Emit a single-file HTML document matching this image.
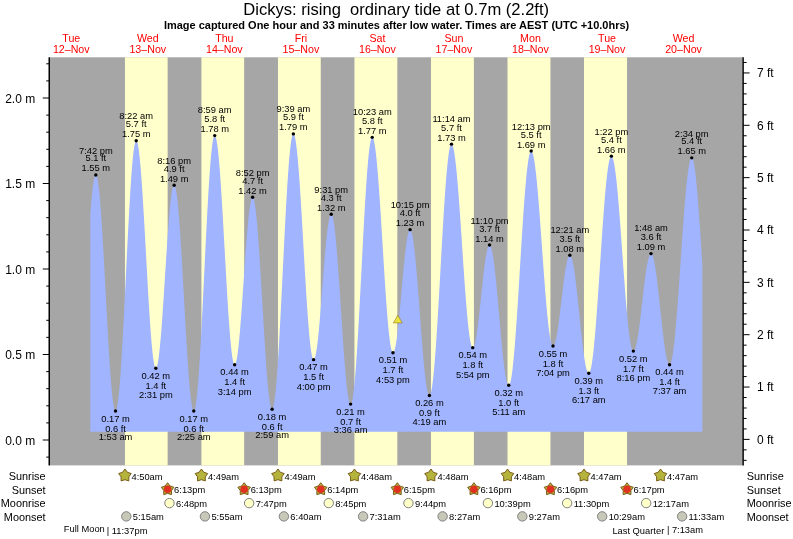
<!DOCTYPE html>
<html><head><meta charset="utf-8"><title>Dickys tide times</title>
<style>
html,body{margin:0;padding:0;background:#fff}
svg{display:block}
text{font-family:"Liberation Sans",Arial,Helvetica,sans-serif;fill:#000}
.t7{font-size:9.33px}
.t8{font-size:10.67px}
.t9{font-size:10.9px}
.ax{font-size:12px}
.day{font-size:10.67px;fill:#ff0000;text-anchor:middle}
.c{text-anchor:middle}
.e{text-anchor:end}
</style></head><body>
<svg width="793" height="539" viewBox="0 0 793 539">
<rect width="793" height="539" fill="#fff"/>
<rect x="50" y="57.3" width="692.5" height="408.09999999999997" fill="#a6a6a6"/>
<rect x="124.95" y="57.3" width="42.68" height="408.09999999999997" fill="#ffffcc"/>
<rect x="201.43" y="57.3" width="42.73" height="408.09999999999997" fill="#ffffcc"/>
<rect x="277.96" y="57.3" width="42.78" height="408.09999999999997" fill="#ffffcc"/>
<rect x="354.44" y="57.3" width="42.89" height="408.09999999999997" fill="#ffffcc"/>
<rect x="430.97" y="57.3" width="42.94" height="408.09999999999997" fill="#ffffcc"/>
<rect x="507.51" y="57.3" width="42.94" height="408.09999999999997" fill="#ffffcc"/>
<rect x="583.99" y="57.3" width="43.05" height="408.09999999999997" fill="#ffffcc"/>
<path d="M90.30,431.8L90.30,214.48L90.81,207.93L91.32,201.87L91.83,196.34L92.34,191.37L92.85,187.00L93.36,183.28L93.87,180.21L94.38,177.83L94.89,176.16L95.40,175.20L95.91,174.96L96.42,175.49L96.93,176.79L97.44,178.85L97.95,181.67L98.46,185.22L98.97,189.49L99.48,194.44L99.99,200.03L100.50,206.24L101.01,213.02L101.52,220.33L102.03,228.12L102.54,236.34L103.05,244.93L103.56,253.83L104.07,263.00L104.58,272.36L105.09,281.86L105.60,291.43L106.11,301.01L106.62,310.54L107.13,319.95L107.64,329.18L108.15,338.18L108.66,346.87L109.17,355.21L109.68,363.14L110.19,370.61L110.70,377.56L111.21,383.96L111.72,389.75L112.23,394.91L112.74,399.39L113.25,403.17L113.76,406.22L114.27,408.53L114.78,410.07L115.29,410.84L115.80,410.82L116.31,410.00L116.82,408.38L117.33,405.96L117.84,402.76L118.35,398.80L118.86,394.09L119.37,388.68L119.88,382.60L120.39,375.87L120.90,368.54L121.41,360.65L121.92,352.26L122.43,343.40L122.94,334.14L123.45,324.53L123.96,314.63L124.47,304.50L124.98,294.19L125.49,283.77L126.00,273.31L126.51,262.86L127.02,252.49L127.53,242.26L128.04,232.23L128.55,222.46L129.06,213.01L129.57,203.94L130.08,195.31L130.59,187.15L131.10,179.53L131.61,172.48L132.12,166.06L132.63,160.29L133.14,155.22L133.65,150.87L134.16,147.28L134.67,144.45L135.18,142.41L135.69,141.18L136.20,140.75L136.71,141.11L137.22,142.22L137.73,144.09L138.24,146.69L138.75,150.00L139.26,154.02L139.77,158.71L140.28,164.03L140.79,169.96L141.30,176.45L141.81,183.46L142.32,190.94L142.83,198.85L143.34,207.13L143.85,215.73L144.36,224.58L144.87,233.64L145.38,242.83L145.89,252.10L146.40,261.38L146.91,270.62L147.42,279.76L147.93,288.72L148.44,297.45L148.95,305.90L149.46,314.01L149.97,321.71L150.48,328.97L150.99,335.73L151.50,341.95L152.01,347.59L152.52,352.60L153.03,356.97L153.54,360.64L154.05,363.61L154.56,365.85L155.07,367.35L155.58,368.09L156.09,368.09L156.60,367.38L157.11,365.97L157.62,363.89L158.13,361.14L158.64,357.75L159.15,353.74L159.66,349.14L160.17,343.99L160.68,338.32L161.19,332.19L161.70,325.63L162.21,318.69L162.72,311.44L163.23,303.92L163.74,296.20L164.25,288.32L164.76,280.36L165.27,272.37L165.78,264.41L166.29,256.55L166.80,248.83L167.31,241.34L167.82,234.11L168.33,227.20L168.84,220.68L169.35,214.58L169.86,208.96L170.37,203.85L170.88,199.30L171.39,195.34L171.90,191.99L172.41,189.30L172.92,187.27L173.43,185.93L173.94,185.28L174.45,185.33L174.96,186.13L175.47,187.68L175.98,189.96L176.49,192.97L177.00,196.67L177.51,201.06L178.02,206.09L178.53,211.73L179.04,217.95L179.55,224.70L180.06,231.94L180.57,239.63L181.08,247.70L181.59,256.11L182.10,264.80L182.61,273.71L183.12,282.79L183.63,291.97L184.14,301.18L184.65,310.38L185.16,319.49L185.67,328.46L186.18,337.23L186.69,345.74L187.20,353.93L187.71,361.74L188.22,369.14L188.73,376.05L189.24,382.45L189.75,388.29L190.26,393.52L190.77,398.12L191.28,402.04L191.79,405.28L192.30,407.80L192.81,409.59L193.32,410.63L193.83,410.93L194.34,410.43L194.85,409.14L195.36,407.05L195.87,404.18L196.38,400.54L196.89,396.16L197.40,391.06L197.91,385.27L198.42,378.82L198.93,371.76L199.44,364.12L199.95,355.94L200.46,347.29L200.97,338.20L201.48,328.73L201.99,318.94L202.50,308.88L203.01,298.61L203.52,288.20L204.03,277.69L204.54,267.16L205.05,256.67L205.56,246.27L206.07,236.03L206.58,226.01L207.09,216.27L207.60,206.86L208.11,197.84L208.62,189.26L209.13,181.17L209.64,173.62L210.15,166.65L210.66,160.31L211.17,154.62L211.68,149.64L212.19,145.37L212.70,141.86L213.21,139.11L213.72,137.15L214.23,135.98L214.74,135.62L215.25,136.03L215.76,137.17L216.27,139.05L216.78,141.64L217.29,144.93L217.80,148.91L218.31,153.54L218.82,158.79L219.33,164.63L219.84,171.03L220.35,177.93L220.86,185.31L221.37,193.10L221.88,201.26L222.39,209.74L222.90,218.47L223.41,227.42L223.92,236.51L224.43,245.69L224.94,254.89L225.45,264.07L225.96,273.16L226.47,282.10L226.98,290.83L227.49,299.30L228.00,307.46L228.51,315.24L229.02,322.60L229.53,329.50L230.04,335.88L230.55,341.71L231.06,346.95L231.57,351.57L232.08,355.52L232.59,358.80L233.10,361.38L233.61,363.24L234.12,364.37L234.63,364.76L235.14,364.45L235.65,363.47L236.16,361.84L236.67,359.56L237.18,356.66L237.69,353.16L238.20,349.08L238.71,344.46L239.22,339.34L239.73,333.75L240.24,327.75L240.75,321.37L241.26,314.67L241.77,307.70L242.28,300.52L242.79,293.19L243.30,285.76L243.81,278.29L244.32,270.84L244.83,263.47L245.34,256.24L245.85,249.21L246.36,242.43L246.87,235.95L247.38,229.84L247.89,224.13L248.40,218.87L248.91,214.11L249.42,209.88L249.93,206.21L250.44,203.14L250.95,200.68L251.46,198.87L251.97,197.70L252.48,197.20L252.99,197.38L253.50,198.27L254.01,199.87L254.52,202.16L255.03,205.14L255.54,208.78L256.05,213.05L256.56,217.93L257.07,223.39L257.58,229.38L258.09,235.88L258.60,242.83L259.11,250.18L259.62,257.89L260.13,265.91L260.64,274.18L261.15,282.64L261.66,291.24L262.17,299.93L262.68,308.63L263.19,317.30L263.70,325.88L264.21,334.30L264.72,342.51L265.23,350.46L265.74,358.08L266.25,365.34L266.76,372.18L267.27,378.55L267.78,384.42L268.29,389.74L268.80,394.47L269.31,398.59L269.82,402.06L270.33,404.87L270.84,406.99L271.35,408.42L271.86,409.13L272.37,409.12L272.88,408.34L273.39,406.78L273.90,404.46L274.41,401.37L274.92,397.56L275.43,393.02L275.94,387.80L276.45,381.92L276.96,375.41L277.47,368.31L277.98,360.67L278.49,352.51L279.00,343.90L279.51,334.88L280.02,325.49L280.53,315.80L281.04,305.86L281.55,295.73L282.06,285.46L282.57,275.10L283.08,264.73L283.59,254.40L284.10,244.17L284.61,234.09L285.12,224.22L285.63,214.62L286.14,205.35L286.65,196.45L287.16,187.98L287.67,179.98L288.18,172.50L288.69,165.59L289.20,159.27L289.71,153.60L290.22,148.59L290.73,144.28L291.24,140.70L291.75,137.85L292.26,135.77L292.77,134.46L293.28,133.92L293.79,134.15L294.30,135.07L294.81,136.70L295.32,139.02L295.83,142.01L296.34,145.65L296.85,149.93L297.36,154.81L297.87,160.27L298.38,166.27L298.89,172.78L299.40,179.75L299.91,187.13L300.42,194.89L300.93,202.98L301.44,211.34L301.95,219.92L302.46,228.67L302.97,237.53L303.48,246.45L303.99,255.37L304.50,264.24L305.01,272.99L305.52,281.59L306.03,289.97L306.54,298.07L307.05,305.86L307.56,313.27L308.07,320.27L308.58,326.81L309.09,332.85L309.60,338.35L310.11,343.28L310.62,347.60L311.13,351.29L311.64,354.33L312.15,356.69L312.66,358.37L313.17,359.35L313.68,359.63L314.19,359.26L314.70,358.29L315.21,356.73L315.72,354.59L316.23,351.90L316.74,348.66L317.25,344.91L317.76,340.68L318.27,336.01L318.78,330.93L319.29,325.49L319.80,319.72L320.31,313.69L320.82,307.43L321.33,301.00L321.84,294.46L322.35,287.85L322.86,281.24L323.37,274.68L323.88,268.21L324.39,261.90L324.90,255.80L325.41,249.96L325.92,244.42L326.43,239.24L326.94,234.45L327.45,230.10L327.96,226.22L328.47,222.84L328.98,219.99L329.49,217.70L330.00,215.98L330.51,214.86L331.02,214.32L331.53,214.40L332.04,215.13L332.55,216.49L333.06,218.48L333.57,221.10L334.08,224.31L334.59,228.10L335.10,232.45L335.61,237.32L336.12,242.68L336.63,248.49L337.14,254.71L337.65,261.31L338.16,268.24L338.67,275.44L339.18,282.87L339.69,290.48L340.20,298.22L340.71,306.04L341.22,313.87L341.73,321.68L342.24,329.40L342.75,336.98L343.26,344.37L343.77,351.52L344.28,358.38L344.79,364.91L345.30,371.06L345.81,376.78L346.32,382.05L346.83,386.82L347.34,391.06L347.85,394.74L348.36,397.83L348.87,400.33L349.38,402.20L349.89,403.44L350.40,404.03L350.91,403.97L351.42,403.18L351.93,401.66L352.44,399.43L352.95,396.49L353.46,392.86L353.97,388.56L354.48,383.62L354.99,378.05L355.50,371.90L356.01,365.19L356.52,357.97L357.03,350.26L357.54,342.12L358.05,333.59L358.56,324.71L359.07,315.54L359.58,306.12L360.09,296.51L360.60,286.75L361.11,276.91L361.62,267.03L362.13,257.18L362.64,247.39L363.15,237.74L363.66,228.27L364.17,219.02L364.68,210.07L365.19,201.44L365.70,193.20L366.21,185.38L366.72,178.03L367.23,171.18L367.74,164.88L368.25,159.17L368.76,154.06L369.27,149.59L369.78,145.79L370.29,142.67L370.80,140.26L371.31,138.56L371.82,137.58L372.33,137.34L372.84,137.77L373.35,138.84L373.86,140.54L374.37,142.87L374.88,145.80L375.39,149.33L375.90,153.43L376.41,158.08L376.92,163.25L377.43,168.91L377.94,175.02L378.45,181.55L378.96,188.46L379.47,195.71L379.98,203.25L380.49,211.04L381.00,219.04L381.51,227.19L382.02,235.44L382.53,243.76L383.04,252.08L383.55,260.36L384.06,268.55L384.57,276.60L385.08,284.46L385.59,292.08L386.10,299.43L386.61,306.45L387.12,313.10L387.63,319.35L388.14,325.15L388.65,330.47L389.16,335.29L389.67,339.56L390.18,343.28L390.69,346.40L391.20,348.92L391.71,350.82L392.22,352.09L392.73,352.72L393.24,352.72L393.75,352.17L394.26,351.08L394.77,349.47L395.28,347.35L395.79,344.74L396.30,341.67L396.81,338.15L397.32,334.21L397.83,329.91L398.34,325.26L398.85,320.31L399.36,315.11L399.87,309.71L400.38,304.14L400.89,298.45L401.40,292.71L401.91,286.95L402.42,281.22L402.93,275.59L403.44,270.09L403.95,264.78L404.46,259.70L404.97,254.89L405.48,250.41L405.99,246.28L406.50,242.54L407.01,239.23L407.52,236.38L408.03,234.01L408.54,232.14L409.05,230.78L409.56,229.96L410.07,229.67L410.58,229.94L411.09,230.77L411.60,232.16L412.11,234.10L412.62,236.59L413.13,239.59L413.64,243.09L414.15,247.07L414.66,251.50L415.17,256.35L415.68,261.58L416.19,267.17L416.70,273.06L417.21,279.23L417.72,285.63L418.23,292.21L418.74,298.92L419.25,305.74L419.76,312.60L420.27,319.46L420.78,326.27L421.29,332.99L421.80,339.57L422.31,345.97L422.82,352.14L423.33,358.03L423.84,363.62L424.35,368.85L424.86,373.70L425.37,378.13L425.88,382.11L426.39,385.62L426.90,388.62L427.41,391.10L427.92,393.05L428.43,394.44L428.94,395.27L429.45,395.54L429.96,395.19L430.47,394.17L430.98,392.50L431.49,390.19L432.00,387.23L432.51,383.66L433.02,379.49L433.53,374.74L434.04,369.44L434.55,363.62L435.06,357.29L435.57,350.51L436.08,343.30L436.59,335.71L437.10,327.76L437.61,319.51L438.12,311.00L438.63,302.27L439.14,293.38L439.65,284.35L440.16,275.25L440.67,266.13L441.18,257.02L441.69,247.98L442.20,239.05L442.71,230.29L443.22,221.74L443.73,213.44L444.24,205.43L444.75,197.77L445.26,190.49L445.77,183.63L446.28,177.22L446.79,171.30L447.30,165.90L447.81,161.04L448.32,156.77L448.83,153.08L449.34,150.02L449.85,147.58L450.36,145.79L450.87,144.66L451.38,144.19L451.89,144.35L452.40,145.09L452.91,146.40L453.42,148.28L453.93,150.71L454.44,153.69L454.95,157.18L455.46,161.18L455.97,165.66L456.48,170.60L456.99,175.97L457.50,181.73L458.01,187.85L458.52,194.31L459.03,201.06L459.54,208.06L460.05,215.28L460.56,222.67L461.07,230.20L461.58,237.81L462.09,245.47L462.60,253.13L463.11,260.75L463.62,268.29L464.13,275.70L464.64,282.94L465.15,289.97L465.66,296.75L466.17,303.24L466.68,309.41L467.19,315.21L467.70,320.63L468.21,325.61L468.72,330.15L469.23,334.21L469.74,337.76L470.25,340.80L470.76,343.30L471.27,345.24L471.78,346.62L472.29,347.43L472.80,347.66L473.31,347.38L473.82,346.63L474.33,345.43L474.84,343.79L475.35,341.71L475.86,339.22L476.37,336.34L476.88,333.09L477.39,329.52L477.90,325.64L478.41,321.49L478.92,317.12L479.43,312.55L479.94,307.84L480.45,303.03L480.96,298.15L481.47,293.26L481.98,288.40L482.49,283.61L483.00,278.93L483.51,274.41L484.02,270.10L484.53,266.02L485.04,262.22L485.55,258.72L486.06,255.57L486.57,252.80L487.08,250.41L487.59,248.45L488.10,246.92L488.61,245.84L489.12,245.22L489.63,245.07L490.14,245.39L490.65,246.21L491.16,247.50L491.67,249.26L492.18,251.49L492.69,254.16L493.20,257.25L493.71,260.75L494.22,264.62L494.73,268.85L495.24,273.40L495.75,278.25L496.26,283.35L496.77,288.67L497.28,294.17L497.79,299.83L498.30,305.59L498.81,311.41L499.32,317.27L499.83,323.10L500.34,328.89L500.85,334.57L501.36,340.12L501.87,345.50L502.38,350.67L502.89,355.59L503.40,360.23L503.91,364.55L504.42,368.53L504.93,372.14L505.44,375.35L505.95,378.14L506.46,380.49L506.97,382.39L507.48,383.81L507.99,384.76L508.50,385.23L509.01,385.19L509.52,384.56L510.03,383.35L510.54,381.54L511.05,379.15L511.56,376.20L512.07,372.70L512.58,368.66L513.09,364.11L513.60,359.08L514.11,353.57L514.62,347.64L515.13,341.29L515.64,334.58L516.15,327.52L516.66,320.16L517.17,312.54L517.68,304.69L518.19,296.65L518.70,288.47L519.21,280.18L519.72,271.84L520.23,263.47L520.74,255.13L521.25,246.85L521.76,238.69L522.27,230.67L522.78,222.84L523.29,215.25L523.80,207.92L524.31,200.91L524.82,194.23L525.33,187.94L525.84,182.05L526.35,176.60L526.86,171.62L527.37,167.13L527.88,163.15L528.39,159.71L528.90,156.83L529.41,154.51L529.92,152.77L530.43,151.62L530.94,151.07L531.45,151.10L531.96,151.66L532.47,152.74L532.98,154.33L533.49,156.43L534.00,159.03L534.51,162.11L535.02,165.65L535.53,169.64L536.04,174.05L536.55,178.86L537.06,184.05L537.57,189.58L538.08,195.43L538.59,201.57L539.10,207.96L539.61,214.56L540.12,221.35L540.63,228.28L541.14,235.32L541.65,242.44L542.16,249.58L542.67,256.72L543.18,263.82L543.69,270.83L544.20,277.72L544.71,284.46L545.22,291.00L545.73,297.31L546.24,303.36L546.75,309.12L547.26,314.55L547.77,319.62L548.28,324.31L548.79,328.60L549.30,332.45L549.81,335.85L550.32,338.78L550.83,341.23L551.34,343.17L551.85,344.61L552.36,345.53L552.87,345.93L553.38,345.84L553.89,345.33L554.40,344.42L554.91,343.12L555.42,341.43L555.93,339.37L556.44,336.96L556.95,334.22L557.46,331.18L557.97,327.87L558.48,324.30L558.99,320.53L559.50,316.57L560.01,312.47L560.52,308.26L561.03,303.99L561.54,299.68L562.05,295.39L562.56,291.14L563.07,286.97L563.58,282.93L564.09,279.05L564.60,275.36L565.11,271.91L565.62,268.71L566.13,265.80L566.64,263.20L567.15,260.95L567.66,259.05L568.17,257.53L568.68,256.40L569.19,255.66L569.70,255.34L570.21,255.42L570.72,255.93L571.23,256.86L571.74,258.20L572.25,259.94L572.76,262.07L573.27,264.57L573.78,267.43L574.29,270.63L574.80,274.14L575.31,277.94L575.82,282.00L576.33,286.29L576.84,290.78L577.35,295.44L577.86,300.23L578.37,305.13L578.88,310.09L579.39,315.08L579.90,320.07L580.41,325.01L580.92,329.88L581.43,334.64L581.94,339.25L582.45,343.68L582.96,347.91L583.47,351.89L583.98,355.60L584.49,359.02L585.00,362.11L585.51,364.87L586.02,367.26L586.53,369.27L587.04,370.89L587.55,372.10L588.06,372.90L588.57,373.28L589.08,373.21L589.59,372.61L590.10,371.46L590.61,369.78L591.12,367.57L591.63,364.84L592.14,361.61L592.65,357.90L593.16,353.71L593.67,349.08L594.18,344.02L594.69,338.56L595.20,332.73L595.71,326.56L596.22,320.08L596.73,313.32L597.24,306.32L597.75,299.10L598.26,291.72L598.77,284.19L599.28,276.57L599.79,268.89L600.30,261.19L600.81,253.51L601.32,245.88L601.83,238.35L602.34,230.95L602.85,223.73L603.36,216.70L603.87,209.92L604.38,203.42L604.89,197.22L605.40,191.36L605.91,185.87L606.42,180.78L606.93,176.11L607.44,171.88L607.95,168.13L608.46,164.85L608.97,162.08L609.48,159.83L609.99,158.11L610.50,156.92L611.01,156.27L611.52,156.17L612.03,156.59L612.54,157.52L613.05,158.96L613.56,160.91L614.07,163.34L614.58,166.26L615.09,169.64L615.60,173.46L616.11,177.71L616.62,182.36L617.13,187.39L617.64,192.76L618.15,198.46L618.66,204.46L619.17,210.71L619.68,217.19L620.19,223.87L620.70,230.70L621.21,237.65L621.72,244.69L622.23,251.77L622.74,258.87L623.25,265.94L623.76,272.94L624.27,279.84L624.78,286.60L625.29,293.18L625.80,299.56L626.31,305.69L626.82,311.55L627.33,317.10L627.84,322.31L628.35,327.16L628.86,331.61L629.37,335.66L629.88,339.27L630.39,342.43L630.90,345.11L631.41,347.31L631.92,349.02L632.43,350.22L632.94,350.90L633.45,351.07L633.96,350.81L634.47,350.14L634.98,349.08L635.49,347.63L636.00,345.81L636.51,343.63L637.02,341.11L637.53,338.28L638.04,335.14L638.55,331.74L639.06,328.09L639.57,324.23L640.08,320.19L640.59,316.01L641.10,311.71L641.61,307.34L642.12,302.92L642.63,298.50L643.14,294.11L643.65,289.79L644.16,285.57L644.67,281.49L645.18,277.58L645.69,273.88L646.20,270.41L646.71,267.20L647.22,264.28L647.73,261.68L648.24,259.41L648.75,257.50L649.26,255.95L649.77,254.79L650.28,254.02L650.79,253.65L651.30,253.68L651.81,254.12L652.32,254.97L652.83,256.23L653.34,257.89L653.85,259.92L654.36,262.32L654.87,265.08L655.38,268.16L655.89,271.54L656.40,275.21L656.91,279.13L657.42,283.28L657.93,287.62L658.44,292.12L658.95,296.74L659.46,301.46L659.97,306.24L660.48,311.04L660.99,315.82L661.50,320.56L662.01,325.21L662.52,329.74L663.03,334.12L663.54,338.31L664.05,342.28L664.56,346.01L665.07,349.47L665.58,352.62L666.09,355.45L666.60,357.93L667.11,360.05L667.62,361.79L668.13,363.14L668.64,364.09L669.15,364.63L669.66,364.75L670.17,364.37L670.68,363.45L671.19,362.00L671.70,360.03L672.21,357.53L672.72,354.54L673.23,351.06L673.74,347.11L674.25,342.71L674.76,337.88L675.27,332.66L675.78,327.06L676.29,321.12L676.80,314.87L677.31,308.33L677.82,301.55L678.33,294.56L678.84,287.40L679.35,280.10L679.86,272.71L680.37,265.25L680.88,257.77L681.39,250.31L681.90,242.91L682.41,235.61L682.92,228.43L683.43,221.44L683.94,214.64L684.45,208.10L684.96,201.83L685.47,195.87L685.98,190.25L686.49,185.01L687.00,180.16L687.51,175.74L688.02,171.76L688.53,168.25L689.04,165.23L689.55,162.71L690.06,160.70L690.57,159.22L691.08,158.28L691.59,157.87L692.10,158.02L692.61,158.79L693.12,160.17L693.63,162.16L694.14,164.73L694.65,167.88L695.16,171.59L695.67,175.83L696.18,180.57L696.69,185.79L697.20,191.46L697.71,197.53L698.22,203.96L698.73,210.73L699.24,217.78L699.75,225.08L700.26,232.57L700.77,240.21L701.28,247.95L701.79,255.74L702.30,263.53L702.30,431.8Z" fill="#a0b4ff"/>
<g stroke="#000" stroke-width="1.5" fill="none"><line x1="49.25" y1="57.3" x2="49.25" y2="465.4"/><line x1="743.1" y1="57.3" x2="743.1" y2="465.4"/></g>
<path d="M46.25,457.10H49.25M42.75,440.00H49.25M46.25,422.90H49.25M46.25,405.80H49.25M46.25,388.70H49.25M46.25,371.60H49.25M42.75,354.50H49.25M46.25,337.40H49.25M46.25,320.30H49.25M46.25,303.20H49.25M46.25,286.10H49.25M42.75,269.00H49.25M46.25,251.90H49.25M46.25,234.80H49.25M46.25,217.70H49.25M46.25,200.60H49.25M42.75,183.50H49.25M46.25,166.40H49.25M46.25,149.30H49.25M46.25,132.20H49.25M46.25,115.10H49.25M42.75,98.00H49.25M46.25,80.90H49.25M46.25,63.80H49.25M743.1,460.34h3.5M743.1,449.87h3.5M743.1,439.40h6.5M743.1,428.93h3.5M743.1,418.46h3.5M743.1,407.99h3.5M743.1,397.52h3.5M743.1,387.05h6.5M743.1,376.58h3.5M743.1,366.11h3.5M743.1,355.64h3.5M743.1,345.17h3.5M743.1,334.70h6.5M743.1,324.23h3.5M743.1,313.76h3.5M743.1,303.29h3.5M743.1,292.82h3.5M743.1,282.35h6.5M743.1,271.88h3.5M743.1,261.41h3.5M743.1,250.94h3.5M743.1,240.47h3.5M743.1,230.00h6.5M743.1,219.53h3.5M743.1,209.06h3.5M743.1,198.59h3.5M743.1,188.12h3.5M743.1,177.65h6.5M743.1,167.18h3.5M743.1,156.71h3.5M743.1,146.24h3.5M743.1,135.77h3.5M743.1,125.30h6.5M743.1,114.83h3.5M743.1,104.36h3.5M743.1,93.89h3.5M743.1,83.42h3.5M743.1,72.95h6.5M743.1,62.48h3.5" stroke="#000" stroke-width="1" fill="none"/>
<text class="ax e" x="35.2" y="444.50">0.0 m</text>
<text class="ax e" x="35.2" y="359.00">0.5 m</text>
<text class="ax e" x="35.2" y="273.50">1.0 m</text>
<text class="ax e" x="35.2" y="188.00">1.5 m</text>
<text class="ax e" x="35.2" y="102.50">2.0 m</text>
<text class="ax" x="757" y="443.80">0 ft</text>
<text class="ax" x="757" y="391.45">1 ft</text>
<text class="ax" x="757" y="339.10">2 ft</text>
<text class="ax" x="757" y="286.75">3 ft</text>
<text class="ax" x="757" y="234.40">4 ft</text>
<text class="ax" x="757" y="182.05">5 ft</text>
<text class="ax" x="757" y="129.70">6 ft</text>
<text class="ax" x="757" y="77.35">7 ft</text>
<text x="243.3" y="14.7" textLength="305.8" lengthAdjust="spacingAndGlyphs" style="font-size:16.2px" xml:space="preserve">Dickys: rising  ordinary tide at 0.7m (2.2ft)</text>
<text x="163.9" y="28.9" textLength="465.3" lengthAdjust="spacingAndGlyphs" style="font-size:10.4px;font-weight:bold">Image captured One hour and 33 minutes after low water. Times are AEST (UTC +10.0hrs)</text>
<text class="day" x="71.27" y="41.5">Tue</text><text class="day" x="71.27" y="52.9">12–Nov</text>
<text class="day" x="147.80" y="41.5">Wed</text><text class="day" x="147.80" y="52.9">13–Nov</text>
<text class="day" x="224.33" y="41.5">Thu</text><text class="day" x="224.33" y="52.9">14–Nov</text>
<text class="day" x="300.87" y="41.5">Fri</text><text class="day" x="300.87" y="52.9">15–Nov</text>
<text class="day" x="377.40" y="41.5">Sat</text><text class="day" x="377.40" y="52.9">16–Nov</text>
<text class="day" x="453.93" y="41.5">Sun</text><text class="day" x="453.93" y="52.9">17–Nov</text>
<text class="day" x="530.47" y="41.5">Mon</text><text class="day" x="530.47" y="52.9">18–Nov</text>
<text class="day" x="607.00" y="41.5">Tue</text><text class="day" x="607.00" y="52.9">19–Nov</text>
<text class="day" x="683.54" y="41.5">Wed</text><text class="day" x="683.54" y="52.9">20–Nov</text>
<circle cx="95.82" cy="174.95" r="1.7" fill="#000"/><text class="t7 c" x="95.82" y="153.60">7:42 pm</text><text class="t7 c" x="95.82" y="161.45">5.1 ft</text><text class="t7 c" x="95.82" y="171.45">1.55 m</text>
<circle cx="115.54" cy="410.93" r="1.7" fill="#000"/><text class="t7 c" x="115.54" y="421.53">0.17 m</text><text class="t7 c" x="115.54" y="431.53">0.6 ft</text><text class="t7 c" x="115.54" y="440.18">1:53 am</text>
<circle cx="136.21" cy="140.75" r="1.7" fill="#000"/><text class="t7 c" x="136.21" y="118.60">8:22 am</text><text class="t7 c" x="136.21" y="127.25">5.7 ft</text><text class="t7 c" x="136.21" y="137.25">1.75 m</text>
<circle cx="155.83" cy="368.18" r="1.7" fill="#000"/><text class="t7 c" x="155.83" y="378.78">0.42 m</text><text class="t7 c" x="155.83" y="388.78">1.4 ft</text><text class="t7 c" x="155.83" y="398.23">2:31 pm</text>
<circle cx="174.16" cy="185.21" r="1.7" fill="#000"/><text class="t7 c" x="174.16" y="163.86">8:16 pm</text><text class="t7 c" x="174.16" y="171.71">4.9 ft</text><text class="t7 c" x="174.16" y="181.71">1.49 m</text>
<circle cx="193.77" cy="410.93" r="1.7" fill="#000"/><text class="t7 c" x="193.77" y="421.53">0.17 m</text><text class="t7 c" x="193.77" y="431.53">0.6 ft</text><text class="t7 c" x="193.77" y="440.18">2:25 am</text>
<circle cx="214.71" cy="135.62" r="1.7" fill="#000"/><text class="t7 c" x="214.71" y="113.47">8:59 am</text><text class="t7 c" x="214.71" y="122.12">5.8 ft</text><text class="t7 c" x="214.71" y="132.12">1.78 m</text>
<circle cx="234.64" cy="364.76" r="1.7" fill="#000"/><text class="t7 c" x="234.64" y="375.36">0.44 m</text><text class="t7 c" x="234.64" y="385.36">1.4 ft</text><text class="t7 c" x="234.64" y="394.81">3:14 pm</text>
<circle cx="252.61" cy="197.18" r="1.7" fill="#000"/><text class="t7 c" x="252.61" y="175.83">8:52 pm</text><text class="t7 c" x="252.61" y="183.68">4.7 ft</text><text class="t7 c" x="252.61" y="193.68">1.42 m</text>
<circle cx="272.11" cy="409.22" r="1.7" fill="#000"/><text class="t7 c" x="272.11" y="419.82">0.18 m</text><text class="t7 c" x="272.11" y="429.82">0.6 ft</text><text class="t7 c" x="272.11" y="438.47">2:59 am</text>
<circle cx="293.37" cy="133.91" r="1.7" fill="#000"/><text class="t7 c" x="293.37" y="111.76">9:39 am</text><text class="t7 c" x="293.37" y="120.41">5.9 ft</text><text class="t7 c" x="293.37" y="130.41">1.79 m</text>
<circle cx="313.62" cy="359.63" r="1.7" fill="#000"/><text class="t7 c" x="313.62" y="370.23">0.47 m</text><text class="t7 c" x="313.62" y="380.23">1.5 ft</text><text class="t7 c" x="313.62" y="389.68">4:00 pm</text>
<circle cx="331.22" cy="214.28" r="1.7" fill="#000"/><text class="t7 c" x="331.22" y="192.93">9:31 pm</text><text class="t7 c" x="331.22" y="200.78">4.3 ft</text><text class="t7 c" x="331.22" y="210.78">1.32 m</text>
<circle cx="350.61" cy="404.09" r="1.7" fill="#000"/><text class="t7 c" x="350.61" y="414.69">0.21 m</text><text class="t7 c" x="350.61" y="424.69">0.7 ft</text><text class="t7 c" x="350.61" y="433.34">3:36 am</text>
<circle cx="372.25" cy="137.33" r="1.7" fill="#000"/><text class="t7 c" x="372.25" y="115.18">10:23 am</text><text class="t7 c" x="372.25" y="123.83">5.8 ft</text><text class="t7 c" x="372.25" y="133.83">1.77 m</text>
<circle cx="392.97" cy="352.79" r="1.7" fill="#000"/><text class="t7 c" x="392.97" y="363.39">0.51 m</text><text class="t7 c" x="392.97" y="373.39">1.7 ft</text><text class="t7 c" x="392.97" y="382.84">4:53 pm</text>
<circle cx="410.09" cy="229.67" r="1.7" fill="#000"/><text class="t7 c" x="410.09" y="208.32">10:15 pm</text><text class="t7 c" x="410.09" y="216.17">4.0 ft</text><text class="t7 c" x="410.09" y="226.17">1.23 m</text>
<circle cx="429.43" cy="395.54" r="1.7" fill="#000"/><text class="t7 c" x="429.43" y="406.14">0.26 m</text><text class="t7 c" x="429.43" y="416.14">0.9 ft</text><text class="t7 c" x="429.43" y="424.79">4:19 am</text>
<circle cx="451.49" cy="144.17" r="1.7" fill="#000"/><text class="t7 c" x="451.49" y="122.02">11:14 am</text><text class="t7 c" x="451.49" y="130.67">5.7 ft</text><text class="t7 c" x="451.49" y="140.67">1.73 m</text>
<circle cx="472.75" cy="347.66" r="1.7" fill="#000"/><text class="t7 c" x="472.75" y="358.26">0.54 m</text><text class="t7 c" x="472.75" y="368.26">1.8 ft</text><text class="t7 c" x="472.75" y="377.71">5:54 pm</text>
<circle cx="489.54" cy="245.06" r="1.7" fill="#000"/><text class="t7 c" x="489.54" y="223.71">11:10 pm</text><text class="t7 c" x="489.54" y="231.56">3.7 ft</text><text class="t7 c" x="489.54" y="241.56">1.14 m</text>
<circle cx="508.73" cy="385.28" r="1.7" fill="#000"/><text class="t7 c" x="508.73" y="395.88">0.32 m</text><text class="t7 c" x="508.73" y="405.88">1.0 ft</text><text class="t7 c" x="508.73" y="414.53">5:11 am</text>
<circle cx="531.16" cy="151.01" r="1.7" fill="#000"/><text class="t7 c" x="531.16" y="129.66">12:13 pm</text><text class="t7 c" x="531.16" y="137.51">5.5 ft</text><text class="t7 c" x="531.16" y="147.51">1.69 m</text>
<circle cx="553.00" cy="345.95" r="1.7" fill="#000"/><text class="t7 c" x="553.00" y="356.55">0.55 m</text><text class="t7 c" x="553.00" y="366.55">1.8 ft</text><text class="t7 c" x="553.00" y="376.00">7:04 pm</text>
<circle cx="569.85" cy="255.32" r="1.7" fill="#000"/><text class="t7 c" x="569.85" y="233.17">12:21 am</text><text class="t7 c" x="569.85" y="241.82">3.5 ft</text><text class="t7 c" x="569.85" y="251.82">1.08 m</text>
<circle cx="588.77" cy="373.31" r="1.7" fill="#000"/><text class="t7 c" x="588.77" y="383.91">0.39 m</text><text class="t7 c" x="588.77" y="393.91">1.3 ft</text><text class="t7 c" x="588.77" y="402.56">6:17 am</text>
<circle cx="611.36" cy="156.14" r="1.7" fill="#000"/><text class="t7 c" x="611.36" y="134.79">1:22 pm</text><text class="t7 c" x="611.36" y="142.64">5.4 ft</text><text class="t7 c" x="611.36" y="152.64">1.66 m</text>
<circle cx="633.36" cy="351.08" r="1.7" fill="#000"/><text class="t7 c" x="633.36" y="361.68">0.52 m</text><text class="t7 c" x="633.36" y="371.68">1.7 ft</text><text class="t7 c" x="633.36" y="381.13">8:16 pm</text>
<circle cx="651.01" cy="253.61" r="1.7" fill="#000"/><text class="t7 c" x="651.01" y="231.46">1:48 am</text><text class="t7 c" x="651.01" y="240.11">3.6 ft</text><text class="t7 c" x="651.01" y="250.11">1.09 m</text>
<circle cx="669.56" cy="364.76" r="1.7" fill="#000"/><text class="t7 c" x="669.56" y="375.36">0.44 m</text><text class="t7 c" x="669.56" y="385.36">1.4 ft</text><text class="t7 c" x="669.56" y="394.01">7:37 am</text>
<circle cx="691.72" cy="157.85" r="1.7" fill="#000"/><text class="t7 c" x="691.72" y="136.50">2:34 pm</text><text class="t7 c" x="691.72" y="144.35">5.4 ft</text><text class="t7 c" x="691.72" y="154.35">1.65 m</text>
<path d="M397.8,315.1L402.2,322.90000000000003L393.40000000000003,322.90000000000003Z" fill="#e8e43c" stroke="#8a5a1e" stroke-width="0.5"/>
<defs></defs>
<path d="M124.95,469.00L127.36,472.28L131.22,473.56L128.85,476.87L128.83,480.94L124.95,479.70L121.07,480.94L121.05,476.87L118.67,473.56L122.54,472.28Z" fill="#b4b43c" stroke="#70500f" stroke-width="0.9"/><text class="t7" x="131.45" y="479.6">4:50am</text>
<path d="M167.62,482.70L170.03,485.98L173.90,487.26L171.52,490.57L171.50,494.64L167.62,493.40L163.75,494.64L163.73,490.57L161.35,487.26L165.21,485.98Z" fill="#b4b43c" stroke="#70500f" stroke-width="0.9"/><circle cx="167.62" cy="489.2" r="3.8" fill="#e03020"/><text class="t7" x="174.12" y="493.3">6:13pm</text>
<path d="M201.43,469.00L203.84,472.28L207.70,473.56L205.33,476.87L205.31,480.94L201.43,479.70L197.55,480.94L197.53,476.87L195.15,473.56L199.02,472.28Z" fill="#b4b43c" stroke="#70500f" stroke-width="0.9"/><text class="t7" x="207.93" y="479.6">4:49am</text>
<path d="M244.16,482.70L246.57,485.98L250.44,487.26L248.06,490.57L248.04,494.64L244.16,493.40L240.28,494.64L240.26,490.57L237.88,487.26L241.75,485.98Z" fill="#b4b43c" stroke="#70500f" stroke-width="0.9"/><circle cx="244.16" cy="489.2" r="3.8" fill="#e03020"/><text class="t7" x="250.66" y="493.3">6:13pm</text>
<path d="M277.96,469.00L280.37,472.28L284.24,473.56L281.86,476.87L281.84,480.94L277.96,479.70L274.08,480.94L274.06,476.87L271.68,473.56L275.55,472.28Z" fill="#b4b43c" stroke="#70500f" stroke-width="0.9"/><text class="t7" x="284.46" y="479.6">4:49am</text>
<path d="M320.75,482.70L323.15,485.98L327.02,487.26L324.64,490.57L324.62,494.64L320.75,493.40L316.87,494.64L316.85,490.57L314.47,487.26L318.34,485.98Z" fill="#b4b43c" stroke="#70500f" stroke-width="0.9"/><circle cx="320.75" cy="489.2" r="3.8" fill="#e03020"/><text class="t7" x="327.25" y="493.3">6:14pm</text>
<path d="M354.44,469.00L356.85,472.28L360.72,473.56L358.34,476.87L358.32,480.94L354.44,479.70L350.56,480.94L350.54,476.87L348.16,473.56L352.03,472.28Z" fill="#b4b43c" stroke="#70500f" stroke-width="0.9"/><text class="t7" x="360.94" y="479.6">4:48am</text>
<path d="M397.33,482.70L399.74,485.98L403.61,487.26L401.23,490.57L401.21,494.64L397.33,493.40L393.45,494.64L393.43,490.57L391.05,487.26L394.92,485.98Z" fill="#b4b43c" stroke="#70500f" stroke-width="0.9"/><circle cx="397.33" cy="489.2" r="3.8" fill="#e03020"/><text class="t7" x="403.83" y="493.3">6:15pm</text>
<path d="M430.97,469.00L433.38,472.28L437.25,473.56L434.87,476.87L434.85,480.94L430.97,479.70L427.10,480.94L427.08,476.87L424.70,473.56L428.56,472.28Z" fill="#b4b43c" stroke="#70500f" stroke-width="0.9"/><text class="t7" x="437.47" y="479.6">4:48am</text>
<path d="M473.92,482.70L476.33,485.98L480.20,487.26L477.82,490.57L477.80,494.64L473.92,493.40L470.04,494.64L470.02,490.57L467.64,487.26L471.51,485.98Z" fill="#b4b43c" stroke="#70500f" stroke-width="0.9"/><circle cx="473.92" cy="489.2" r="3.8" fill="#e03020"/><text class="t7" x="480.42" y="493.3">6:16pm</text>
<path d="M507.51,469.00L509.92,472.28L513.79,473.56L511.41,476.87L511.39,480.94L507.51,479.70L503.63,480.94L503.61,476.87L501.23,473.56L505.10,472.28Z" fill="#b4b43c" stroke="#70500f" stroke-width="0.9"/><text class="t7" x="514.01" y="479.6">4:48am</text>
<path d="M550.45,482.70L552.86,485.98L556.73,487.26L554.35,490.57L554.33,494.64L550.45,493.40L546.57,494.64L546.55,490.57L544.18,487.26L548.04,485.98Z" fill="#b4b43c" stroke="#70500f" stroke-width="0.9"/><circle cx="550.45" cy="489.2" r="3.8" fill="#e03020"/><text class="t7" x="556.95" y="493.3">6:16pm</text>
<path d="M583.99,469.00L586.40,472.28L590.27,473.56L587.89,476.87L587.87,480.94L583.99,479.70L580.11,480.94L580.09,476.87L577.71,473.56L581.58,472.28Z" fill="#b4b43c" stroke="#70500f" stroke-width="0.9"/><text class="t7" x="590.49" y="479.6">4:47am</text>
<path d="M627.04,482.70L629.45,485.98L633.32,487.26L630.94,490.57L630.92,494.64L627.04,493.40L623.16,494.64L623.14,490.57L620.76,487.26L624.63,485.98Z" fill="#b4b43c" stroke="#70500f" stroke-width="0.9"/><circle cx="627.04" cy="489.2" r="3.8" fill="#e03020"/><text class="t7" x="633.54" y="493.3">6:17pm</text>
<path d="M660.52,469.00L662.93,472.28L666.80,473.56L664.42,476.87L664.40,480.94L660.52,479.70L656.64,480.94L656.62,476.87L654.25,473.56L658.11,472.28Z" fill="#b4b43c" stroke="#70500f" stroke-width="0.9"/><text class="t7" x="667.02" y="479.6">4:47am</text>
<circle cx="169.48" cy="503.1" r="4.7" fill="#ffffc8" stroke="#808080" stroke-width="1"/><text class="t7" x="175.98" y="507.1">6:48pm</text>
<circle cx="249.15" cy="503.1" r="4.7" fill="#ffffc8" stroke="#808080" stroke-width="1"/><text class="t7" x="255.65" y="507.1">7:47pm</text>
<circle cx="328.77" cy="503.1" r="4.7" fill="#ffffc8" stroke="#808080" stroke-width="1"/><text class="t7" x="335.27" y="507.1">8:45pm</text>
<circle cx="408.44" cy="503.1" r="4.7" fill="#ffffc8" stroke="#808080" stroke-width="1"/><text class="t7" x="414.94" y="507.1">9:44pm</text>
<circle cx="487.90" cy="503.1" r="4.7" fill="#ffffc8" stroke="#808080" stroke-width="1"/><text class="t7" x="494.40" y="507.1">10:39pm</text>
<circle cx="567.14" cy="503.1" r="4.7" fill="#ffffc8" stroke="#808080" stroke-width="1"/><text class="t7" x="573.64" y="507.1">11:30pm</text>
<circle cx="646.17" cy="503.1" r="4.7" fill="#ffffc8" stroke="#808080" stroke-width="1"/><text class="t7" x="652.67" y="507.1">12:17am</text>
<circle cx="126.28" cy="516.4" r="4.7" fill="#c8c8b9" stroke="#808080" stroke-width="1"/><text class="t7" x="132.78" y="520.0">5:15am</text>
<circle cx="204.93" cy="516.4" r="4.7" fill="#c8c8b9" stroke="#808080" stroke-width="1"/><text class="t7" x="211.43" y="520.0">5:55am</text>
<circle cx="283.86" cy="516.4" r="4.7" fill="#c8c8b9" stroke="#808080" stroke-width="1"/><text class="t7" x="290.36" y="520.0">6:40am</text>
<circle cx="363.10" cy="516.4" r="4.7" fill="#c8c8b9" stroke="#808080" stroke-width="1"/><text class="t7" x="369.60" y="520.0">7:31am</text>
<circle cx="442.61" cy="516.4" r="4.7" fill="#c8c8b9" stroke="#808080" stroke-width="1"/><text class="t7" x="449.11" y="520.0">8:27am</text>
<circle cx="522.34" cy="516.4" r="4.7" fill="#c8c8b9" stroke="#808080" stroke-width="1"/><text class="t7" x="528.84" y="520.0">9:27am</text>
<circle cx="602.17" cy="516.4" r="4.7" fill="#c8c8b9" stroke="#808080" stroke-width="1"/><text class="t7" x="608.67" y="520.0">10:29am</text>
<circle cx="682.10" cy="516.4" r="4.7" fill="#c8c8b9" stroke="#808080" stroke-width="1"/><text class="t7" x="688.60" y="520.0">11:33am</text>
<text class="t9 e" x="45.6" y="480.2">Sunrise</text><text class="t9" x="746.8" y="480.2">Sunrise</text>
<text class="t9 e" x="45.6" y="493.6">Sunset</text><text class="t9" x="746.8" y="493.6">Sunset</text>
<text class="t9 e" x="45.6" y="506.8">Moonrise</text><text class="t9" x="746.8" y="506.8">Moonrise</text>
<text class="t9 e" x="45.6" y="520.6">Moonset</text><text class="t9" x="746.8" y="520.6">Moonset</text>
<text class="t7" x="63.8" y="532.4">Full Moon</text><text class="t7" x="106.8" y="534.4">| 11:37pm</text>
<text class="t7" x="612.4" y="533.7">Last Quarter</text><text class="t7" x="666.9" y="533.2">| 7:13am</text>
</svg>
</body></html>
